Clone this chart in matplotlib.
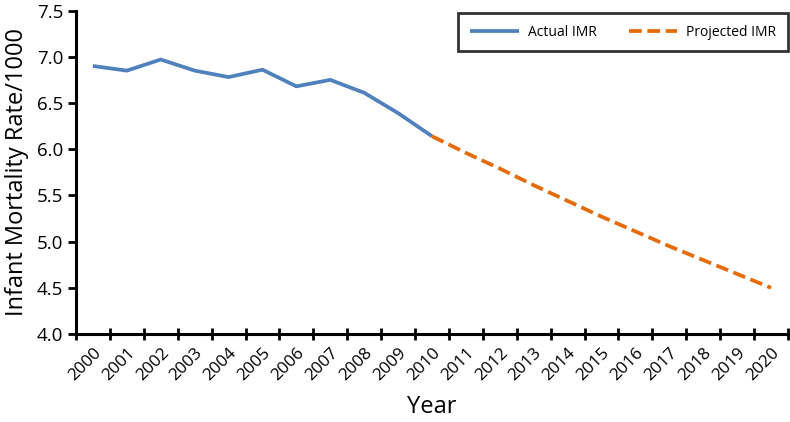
import matplotlib
matplotlib.use("Agg")
import matplotlib.pyplot as plt
import matplotlib.transforms as mtransforms
import numpy as np

plt.rcParams['font.family'] = ['Open Sans', 'DejaVu Sans']

years = [str(y) for y in range(2000, 2021)]
actual_years = years[:11]
actual = [6.90, 6.85, 6.97, 6.85, 6.78, 6.86, 6.68, 6.75, 6.61, 6.39, 6.14]
proj_years = years[10:]
projected = [6.14, 5.96, 5.79, 5.61, 5.44, 5.27, 5.11, 4.95, 4.80, 4.65, 4.50]

fig = plt.figure(figsize=(7.9, 4.22), dpi=100)
ax = fig.add_axes([0.0962, 0.2085, 0.9013, 0.7665])

idx = {y: i for i, y in enumerate(years)}
ax.plot([idx[y] for y in actual_years], actual, color='#4F81BD', lw=2.7, label='Actual IMR', solid_capstyle='butt')
ax.plot([idx[y] for y in proj_years], projected, color='#E46C0A', lw=2.7, ls=(0, (3.4, 1.5)), label='Projected IMR')

ax.set_xlim(-0.5, len(years) - 0.5)
ax.set_ylim(4.0, 7.5)
yt = np.arange(4.0, 7.51, 0.5)
ax.set_yticks(yt)
ax.set_yticklabels([f"{v:.1f}" for v in yt], fontsize=13.5)
ax.set_xticks(np.arange(len(years)))
ax.set_xticklabels(years, rotation=45, ha='right', va='top', rotation_mode='anchor', fontsize=12.3)
offset = mtransforms.ScaledTranslation(6/100, 0, fig.dpi_scale_trans)
for lab in ax.get_xticklabels():
    lab.set_transform(lab.get_transform() + offset)
ax.set_xticks(np.arange(-0.5, len(years), 1), minor=True)
ax.tick_params(axis='x', which='major', length=0, pad=8)
ax.tick_params(axis='x', which='minor', direction='inout', length=9, width=2)
ax.tick_params(axis='y', direction='out', length=6, width=2, pad=3)

for s in ['top', 'right']:
    ax.spines[s].set_visible(False)
for s in ['left', 'bottom']:
    ax.spines[s].set_linewidth(2.2)

ax.set_ylabel('Infant Mortality Rate/1000', fontsize=17, labelpad=6)
ax.set_xlabel('Year', fontsize=17, labelpad=8)

leg = ax.legend(loc='upper right', bbox_to_anchor=(1.0, 0.993), borderaxespad=0, ncol=2, frameon=True,
                fancybox=False, fontsize=10, handlelength=3.5, handletextpad=0.65, columnspacing=2.3,
                borderpad=0.85, edgecolor='black')
leg.get_frame().set_linewidth(2)

fig.savefig('out.png', dpi=100)
